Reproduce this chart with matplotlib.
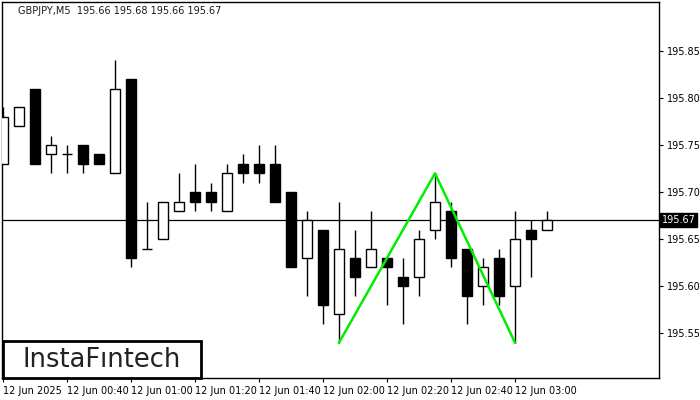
import numpy as np
import matplotlib
matplotlib.use("Agg")
import matplotlib.pyplot as plt
from matplotlib.patches import Rectangle

# GBPJPY M5 candles, 00:20 .. 03:10
times = ["00:20", "00:25", "00:30", "00:35", "00:40", "00:45", "00:50", "00:55",
         "01:00", "01:05", "01:10", "01:15", "01:20", "01:25", "01:30", "01:35",
         "01:40", "01:45", "01:50", "01:55", "02:00", "02:05", "02:10", "02:15",
         "02:20", "02:25", "02:30", "02:35", "02:40", "02:45", "02:50", "02:55",
         "03:00", "03:05", "03:10"]
opens = [195.73, 195.77, 195.81, 195.74, 195.74, 195.75, 195.74, 195.72,
         195.82, 195.64, 195.65, 195.68, 195.70, 195.70, 195.68, 195.73,
         195.73, 195.73, 195.70, 195.63, 195.66, 195.57, 195.63, 195.62,
         195.63, 195.61, 195.61, 195.66, 195.68, 195.64, 195.60, 195.63,
         195.60, 195.66, 195.66]
highs = [195.79, 195.79, 195.81, 195.76, 195.75, 195.75, 195.74, 195.84,
         195.82, 195.69, 195.69, 195.72, 195.73, 195.71, 195.73, 195.74,
         195.75, 195.75, 195.70, 195.68, 195.66, 195.69, 195.66, 195.68,
         195.63, 195.63, 195.66, 195.72, 195.69, 195.64, 195.63, 195.64,
         195.68, 195.67, 195.68]
lows = [195.73, 195.77, 195.73, 195.72, 195.72, 195.72, 195.73, 195.72,
        195.62, 195.64, 195.65, 195.68, 195.68, 195.68, 195.68, 195.71,
        195.71, 195.69, 195.62, 195.59, 195.56, 195.54, 195.59, 195.62,
        195.58, 195.56, 195.59, 195.65, 195.62, 195.56, 195.58, 195.58,
        195.54, 195.61, 195.66]
closes = [195.78, 195.79, 195.73, 195.75, 195.74, 195.73, 195.73, 195.81,
          195.63, 195.64, 195.69, 195.69, 195.69, 195.69, 195.72, 195.72,
          195.72, 195.69, 195.62, 195.67, 195.58, 195.64, 195.61, 195.64,
          195.62, 195.60, 195.65, 195.69, 195.63, 195.59, 195.62, 195.59,
          195.65, 195.65, 195.67]

# double bottom pattern: candle index, price
pattern_idx = [21, 27, 32]
pattern_price = [195.54, 195.72, 195.54]

last_price = 195.67
yticks = [195.55, 195.60, 195.65, 195.70, 195.75, 195.80, 195.85]
xtick_idx = [0, 4, 8, 12, 16, 20, 24, 28, 32]
xtick_labels = ["12 Jun 2025", "12 Jun 00:40", "12 Jun 01:00", "12 Jun 01:20",
                "12 Jun 01:40", "12 Jun 02:00", "12 Jun 02:20", "12 Jun 02:40",
                "12 Jun 03:00"]
title = "GBPJPY,M5  195.66 195.68 195.66 195.67"

fig = plt.figure(figsize=(7, 4), dpi=100)
ax = fig.add_axes([2 / 700, 22 / 400, 657 / 700, 376 / 400])

x = np.arange(len(opens))
o = np.array(opens)
h = np.array(highs)
l = np.array(lows)
c = np.array(closes)
w = 0.62

ax.vlines(x, l, h, color="black", lw=1, zorder=2)
for i in range(len(x)):
    bot = min(o[i], c[i])
    ht = abs(c[i] - o[i])
    if ht < 1e-9:
        ax.hlines(o[i], x[i] - w / 2, x[i] + w / 2, color="black", lw=1, zorder=3)
        continue
    face = "white" if c[i] > o[i] else "black"
    ax.add_patch(Rectangle((x[i] - w / 2, bot), w, ht, facecolor=face,
                           edgecolor="black", lw=1, zorder=3))

ax.axhline(last_price, color="black", lw=0.9, zorder=1)
ax.plot(pattern_idx, pattern_price, color="#00ee00", lw=1.8, zorder=4)

ax.set_xlim(-0.0625, 41.0)
ax.set_ylim(195.5025, 195.902)

ax.yaxis.tick_right()
ax.set_yticks(yticks)
ax.set_yticklabels([f"{v:.2f}" for v in yticks], fontsize=7)
ax.set_xticks(xtick_idx)
ax.set_xticklabels(xtick_labels, fontsize=7, ha="left")
ax.tick_params(axis="both", length=3, width=0.8, pad=3, colors="black")
for sp in ax.spines.values():
    sp.set_linewidth(1)

ax.text(1.004, last_price, f"{last_price:.2f}", transform=ax.get_yaxis_transform(),
        fontsize=7, color="white", va="center", ha="left",
        bbox=dict(boxstyle="square,pad=0.2", facecolor="black", edgecolor="black"),
        zorder=6, clip_on=False)

ax.text(16 / 657, 0.975, title, transform=ax.transAxes, fontsize=7,
        color="#1a1a1a", va="center", ha="left")

# logo box
ax.add_patch(Rectangle((1 / 657, 0.0), 198 / 657, 37 / 376, transform=ax.transAxes,
                       facecolor="white", edgecolor="black", lw=2, zorder=7,
                       clip_on=False))
ax.text(100 / 657, 18 / 376, "InstaF\u0131ntech", transform=ax.transAxes,
        fontsize=18.5, fontweight="medium", color="#222222", ha="center",
        va="center", zorder=8)

fig.savefig("out.png", dpi=100)
